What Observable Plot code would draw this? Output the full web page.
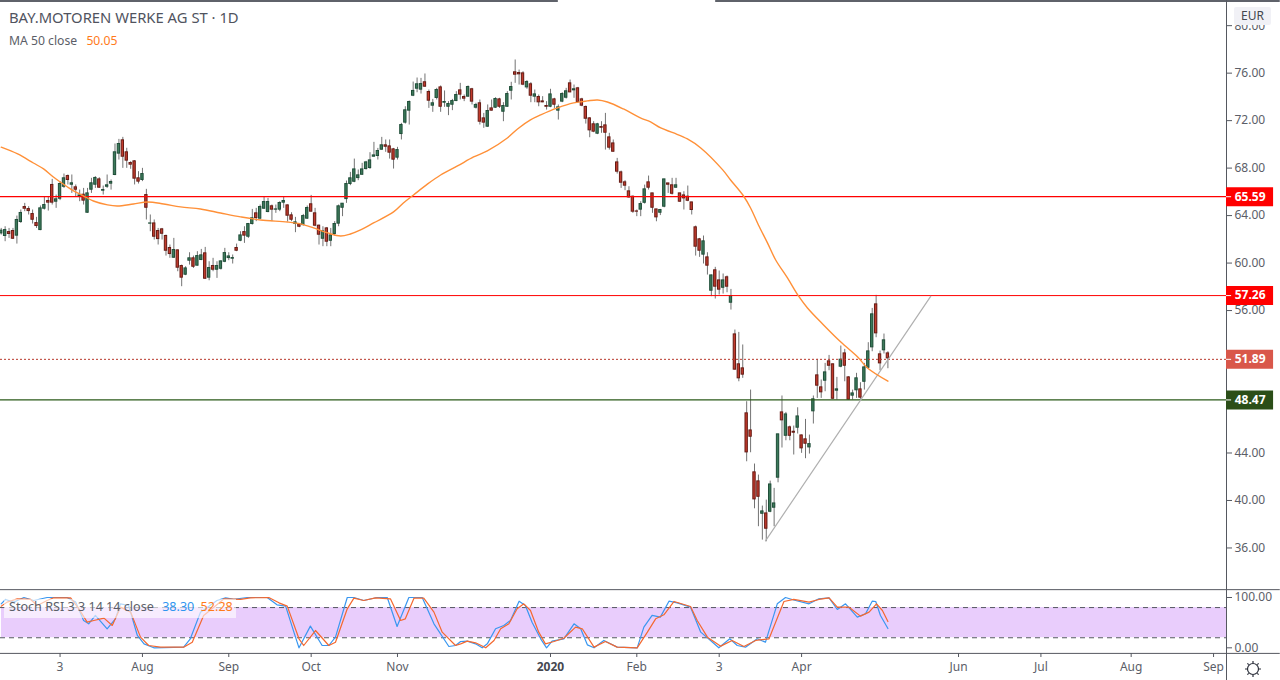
<!DOCTYPE html>
<html><head><meta charset="utf-8">
<script src="https://cdn.jsdelivr.net/npm/d3@7"></script>
<script src="https://cdn.jsdelivr.net/npm/@observablehq/plot@0.6"></script>
<style>
html,body{margin:0;padding:0;background:#fff}
#wrap{position:relative;width:1280px;height:680px;overflow:hidden;font-family:"Noto Sans",sans-serif;color:#50535e}
#wrap svg{display:block;overflow:visible;background:transparent}
.ov{position:absolute;white-space:pre}
</style></head><body><div id="wrap"></div>
<script>
const opens=[62.50,62.28,62.61,62.70,62.31,63.46,64.72,64.55,64.13,63.37,
62.78,64.58,65.23,66.58,65.17,65.42,66.43,67.33,66.60,66.38,
65.65,65.76,64.24,66.18,66.60,67.05,66.10,66.43,66.69,67.42,
69.22,70.34,69.33,68.43,68.57,67.14,67.00,65.73,63.32,63.34,
62.70,62.84,62.28,61.27,60.45,61.07,59.75,59.02,60.20,60.40,
59.78,60.26,60.82,58.77,59.75,59.44,59.52,60.11,60.42,60.37,
61.27,61.88,62.61,62.22,63.29,64.19,63.74,64.58,64.30,64.78,
64.50,64.50,65.09,64.86,64.02,63.29,63.26,63.20,63.74,64.95,
64.19,63.15,62.05,62.92,61.88,62.45,63.32,64.66,65.39,66.66,
66.85,67.16,67.44,67.92,68.01,68.96,69.02,69.55,69.92,69.83,
69.58,68.88,70.87,71.83,72.84,74.10,74.69,74.61,75.23,74.41,
73.26,73.91,74.80,73.51,73.17,73.34,73.65,74.55,73.99,74.02,
74.64,73.09,73.46,72.19,71.49,73.03,73.09,73.79,72.75,73.17,
74.52,76.07,76.01,75.98,74.80,75.06,74.02,73.99,73.62,73.23,
73.17,73.79,72.84,73.60,73.93,75.14,74.55,74.72,73.79,73.15,
72.19,71.69,70.90,71.46,71.60,70.59,70.08,68.48,67.64,66.80,
66.04,65.59,64.35,64.50,65.08,66.80,65.87,64.52,64.24,64.75,
66.71,66.55,66.35,65.87,65.70,65.59,65.11,63.01,62.00,60.71,
60.48,57.67,59.39,58.54,57.92,58.80,56.66,53.99,51.47,51.13,
47.34,45.90,42.37,41.61,38.88,38.91,39.05,39.39,41.92,47.42,
45.45,46.16,45.79,46.13,45.48,45.15,44.47,47.51,50.54,49.53,
50.09,51.72,51.47,49.25,51.27,52.39,50.37,48.83,49.28,49.36,
50.00,51.18,52.90,56.52,52.31,52.65,52.39];
const highs=[62.92,63.06,62.92,62.92,63.96,64.47,65.03,64.75,64.47,63.85,
64.81,65.59,65.59,67.05,65.73,66.86,67.50,67.42,67.42,66.58,
66.15,66.29,66.29,67.14,67.28,67.19,66.49,67.42,67.00,70.03,
70.42,70.59,69.67,68.54,68.63,67.70,67.98,66.21,64.05,63.63,
62.92,62.92,62.36,61.52,62.08,61.10,59.83,59.69,60.87,60.59,
60.96,61.15,61.32,60.11,60.40,60.11,60.20,61.24,60.87,60.68,
61.60,62.64,63.06,63.34,64.52,64.61,64.89,65.59,65.45,64.89,
64.89,65.17,65.59,64.89,64.24,63.85,63.34,64.10,64.81,65.70,
64.61,63.20,63.06,63.00,62.92,63.49,64.89,65.00,66.91,67.64,
68.76,67.84,68.40,68.57,69.30,70.17,69.66,70.59,70.37,70.37,
69.66,69.75,71.77,73.17,73.65,75.25,75.59,75.56,75.93,74.58,
73.79,74.72,74.92,74.50,73.60,73.79,74.44,75.14,74.16,74.92,
74.72,73.46,73.74,72.61,73.32,73.74,73.93,73.88,73.51,74.44,
75.23,77.11,76.26,76.12,75.37,75.20,74.58,74.16,74.02,73.60,
74.64,73.88,73.32,74.35,74.72,75.42,75.00,74.80,73.88,73.23,
72.25,71.91,71.77,71.91,72.61,70.93,70.37,68.82,67.75,66.94,
66.43,65.65,64.47,65.17,66.57,67.33,65.87,64.52,64.52,67.05,
66.71,67.14,67.14,65.87,66.01,66.49,65.11,63.12,62.08,62.28,
60.87,58.99,59.64,59.33,59.08,58.91,57.78,54.36,54.16,53.10,
48.32,49.30,43.07,42.14,39.53,40.03,41.63,41.02,45.57,48.80,
47.42,46.27,46.27,47.81,45.51,46.83,45.51,48.80,51.89,50.15,
51.55,52.22,51.49,50.37,53.01,52.73,50.43,49.30,50.71,49.92,
51.55,53.29,56.18,57.28,52.59,54.02,52.53];
const lows=[62.36,61.80,62.08,62.00,61.60,63.34,64.33,64.05,63.29,62.92,
62.73,64.47,64.38,64.89,64.61,65.26,66.29,66.58,65.87,65.59,
65.17,64.89,64.19,65.87,66.29,66.29,65.73,66.29,66.15,67.36,
68.68,67.98,67.98,67.90,66.58,66.66,66.86,63.63,62.64,61.94,
61.52,61.94,60.59,60.40,60.40,59.27,58.01,58.94,59.83,59.55,
59.75,60.20,58.63,58.51,59.27,58.71,59.41,60.03,60.20,59.92,
60.96,61.80,61.66,62.08,63.20,63.49,63.68,64.52,64.24,63.49,
64.19,64.33,64.61,63.46,63.49,62.56,62.98,63.12,63.68,64.30,
63.06,61.52,61.38,61.38,61.38,62.28,63.06,63.91,65.03,66.52,
66.77,66.94,67.39,67.84,67.89,68.96,68.68,69.52,69.33,68.76,
67.92,68.68,70.37,71.71,71.63,74.02,74.35,74.24,74.80,73.03,
72.70,73.74,72.70,73.12,72.42,72.84,73.60,73.74,73.60,73.96,
73.32,72.98,71.63,71.35,71.43,72.81,73.03,73.03,71.91,73.12,
73.74,75.14,75.00,74.94,74.64,73.51,73.51,73.17,73.51,72.89,
73.09,73.03,72.05,73.51,73.82,74.35,73.88,73.46,73.17,71.71,
70.56,70.98,70.82,70.93,69.52,69.52,69.35,67.50,66.29,66.10,
65.45,64.19,63.91,63.91,64.97,66.15,64.19,63.48,64.00,64.66,
65.87,65.73,66.29,65.11,64.47,65.17,64.05,60.59,60.48,59.92,
58.99,57.17,56.97,57.31,57.39,57.50,56.04,50.99,50.00,50.29,
43.26,44.02,39.30,37.79,36.66,36.52,38.97,37.79,41.49,44.42,
45.03,45.03,43.83,45.60,43.97,43.52,43.91,46.44,48.60,48.60,
49.16,50.93,48.52,48.46,51.18,50.00,48.46,48.46,48.60,48.52,
49.30,51.10,52.53,53.71,50.93,52.34,51.10];
const closes=[62.73,62.78,62.45,62.05,63.63,64.22,64.58,64.38,63.65,63.12,
64.61,64.89,65.09,65.09,65.37,66.66,67.14,67.00,66.72,66.18,
65.70,65.26,65.87,66.72,67.17,66.35,66.15,66.55,66.83,69.33,
70.03,68.96,68.63,68.29,67.11,66.86,67.50,64.66,63.34,62.22,
62.02,62.47,61.04,60.76,61.10,59.61,58.77,59.55,60.40,59.69,
60.59,60.65,58.68,59.58,59.44,59.75,60.14,60.84,60.56,60.42,
61.04,62.33,62.31,63.29,63.77,63.79,64.72,65.14,65.14,64.50,
64.52,65.06,65.23,63.99,63.65,63.43,63.06,63.96,64.64,64.33,
63.15,62.39,62.67,61.80,62.33,63.29,64.78,65.00,66.66,67.14,
67.89,67.39,67.89,68.48,68.65,69.07,69.44,69.92,69.80,69.30,
68.71,69.52,71.63,72.87,73.57,74.50,75.06,75.08,74.86,73.68,
73.46,74.58,73.17,73.57,73.40,73.65,74.16,74.19,73.85,74.83,
73.60,73.32,71.91,71.83,72.81,72.84,73.82,73.17,73.23,74.24,
74.83,75.87,75.90,75.03,75.25,74.10,74.21,73.54,73.54,73.17,
74.21,73.34,73.12,74.24,74.47,74.38,74.64,73.57,73.26,72.16,
71.18,71.07,71.69,71.40,70.98,69.72,69.38,67.70,66.77,66.52,
65.53,64.33,64.33,64.97,66.21,66.35,64.66,63.85,64.47,67.05,
66.60,65.84,66.55,65.17,65.45,65.25,64.47,61.38,61.04,61.83,
59.78,58.96,58.01,57.76,58.54,58.01,57.22,51.02,50.29,50.60,
44.05,45.37,40.09,40.31,39.08,37.62,41.35,39.75,45.57,46.75,
47.25,45.45,45.71,47.08,44.39,44.78,44.75,48.52,49.67,49.11,
50.79,51.35,48.57,49.36,51.86,51.35,48.49,49.02,50.29,48.66,
51.21,52.56,55.68,54.08,51.55,53.49,51.97];

const maIndex=[0,4.2,8.2,10.8,13.3,16.9,18.9,21,23.5,27.1,29.6,33.7,37.3,41.4,45.7,50.8,55.9,61,66.1,73,76.3,79.6,83.2,86.5,89,91.6,94.9,100,102.5,105.1,108.7,112,116.3,120.4,123.9,129,131.6,134.9,137.5,141.8,145.9,149.4,152,154.5,158.6,162.9,165.5,168.1,171.4,174.9,178.3,183.9,185.9,189.2,191,193,195.3,197.4,200.4,203.2,205.5,209.6,214,218.3,220.8,226];
const maValue=[69.76,69.19,68.43,67.93,67.25,66.41,65.99,65.65,65.23,64.90,64.81,64.98,65.15,64.98,64.73,64.56,64.22,63.89,63.63,63.46,63.30,62.96,62.54,62.28,62.45,62.79,63.38,64.31,65.06,65.74,66.67,67.42,68.18,68.94,69.45,70.54,71.30,72.06,72.48,73.07,73.49,73.66,73.74,73.57,72.98,72.23,71.89,71.38,70.96,70.46,69.70,67.85,67.00,65.65,64.64,63.21,61.70,60.26,58.75,57.23,56.22,54.79,53.35,52.09,51.16,50.05];

const kIndex=[0,1.1,3.2,5.8,8.3,11.7,16.8,19,21,22.3,24,27,29.1,30.4,32.5,34.7,36.4,38.9,46.5,48.2,50.8,55,57.2,59.3,62.7,67.8,70.3,72.5,74.6,75.9,78.8,81.8,83.5,85.2,88.2,89.9,92.4,95.8,98.4,100.9,103.9,107.3,110.3,114.1,115.8,117.1,118.8,120.9,122.6,123.9,126,128.1,129.8,132,133.6,135.3,137.5,139,140.4,143.4,146,147.7,149.4,151.1,153.6,157,162.1,163.8,165.9,168,170.2,172.3,175.7,178.3,180.8,182.9,185.7,187.6,189.7,192.7,194.8,197.8,199.9,202,205.9,208.4,211,213.1,215.2,218.2,220.3,222,222.9,224.1,226];
const kValue=[87.4,96.1,90.8,100,94.1,100,100,90.8,54.3,47.7,64.3,37.8,57.6,87.4,84.1,24.5,7.9,0,1.3,17.9,70.9,94.1,99.4,96.1,100,100,85.5,82.8,31.1,0,43.1,4.6,4.6,21.2,100,100,94.1,100,100,42.4,100,100,47.7,2.6,4.6,12.6,13.2,7.9,0,7.9,37.8,44.4,54.3,92.7,84.1,51,17.9,0,13.2,17.9,47.7,37.8,5.9,0,14.6,1.3,0,41.1,64.3,61,92.7,89.4,80.8,31.1,14.6,0,17.9,4.6,1.3,17.9,11.2,87.4,100,95,87.4,97.4,99.4,76.2,87.4,61,67.6,92.7,92.1,64.3,38.30];
const dIndex=[0,1.5,4.1,7.5,9.2,11.7,13.4,17.7,19.8,21.9,23.6,26.2,28.3,30.4,33,35.5,37.6,40.6,46.5,48.7,51.6,54.2,56.8,61,63.5,68.2,70.8,72.9,75.9,77.1,80.1,83.5,85.2,88.2,89.9,92.4,95.4,99.2,101.8,103,105.2,107.7,110.3,112.4,115.8,117.1,118.8,120.9,123.5,125.6,127.3,129.4,131.5,133.2,134.9,137,138.7,140.9,143.4,146.4,148.1,151.1,154,157,162.1,164.7,166.8,168.9,171.5,175.7,177.4,180,183.4,186.3,189.3,192.3,195.7,199.5,202,205.9,208.4,211,213.1,216.1,219,221.2,223.1,224.6,226];
const dValue=[82.8,90.8,97.4,96.1,84.1,94.1,99.4,99.4,77.5,51,54.3,59,44.4,80.8,70.9,21.2,4.6,1.3,1.3,11.2,64.3,80.8,97.4,96.1,99.4,100,89.4,82.8,17.9,4.6,34.4,4.6,11.2,77.5,98.7,94.1,99.4,97.4,54.3,57.6,98.7,98.7,70.9,31.1,4.6,7.9,13.2,9.9,0,14.6,37.8,47.7,77.5,87.4,74.2,31.1,7.9,12.6,19,41.1,37.8,1.3,12.6,1.3,0,31.1,57.6,65.6,92.1,82.1,54.3,21.2,3.3,14.6,2.6,14.6,17.9,92.1,96.1,90.8,96.1,99.4,80.8,80.8,63,70.9,87.4,74.2,52.28];

const trendIndex=[194.8,236.9];
const trendValue=[36.6,57.2];
const priceTicks=[80,76,72,68,64,60,56,44,40,36];
const stochTicks=[100,0];
const monthIndex=[15,36,58,79,101,162,183,204,244,265,288,309];
const monthLabels=["3","Aug","Sep","Oct","Nov","Feb","3","Apr","Jun","Jul","Aug","Sep"];
const yearIndex=[140];
const yearLabels=["2020"];
const levels=[
  {price:65.59,color:"#ff0000",width:1.2,dash:null},
  {price:57.26,color:"#ff0000",width:1,dash:null},
  {price:51.89,color:"#b8382c",width:1,dash:"2,2"},
  {price:48.47,color:"#2b5a18",width:1.2,dash:null}
];
const tagColors=["#ff0000","#ff0000","#d9574a","#2b4e18"];

const xDomain=[-0.18,312.3], xEnd=326, tagEnd=324.3, tagStart=312.3, tagText=314.4;
const axisColor="#555860", textColor="#5b5e68";
const candles=opens.map((o,i)=>({i,o,h:highs[i],l:lows[i],c:closes[i]}));
const up=candles.filter(d=>d.c>=d.o), down=candles.filter(d=>d.c<d.o);
const ma=maIndex.map((x,i)=>({x,y:maValue[i]}));
const kLine=kIndex.map((x,i)=>({x,y:kValue[i]}));
const dLine=dIndex.map((x,i)=>({x,y:dValue[i]}));
const trend=trendIndex.map((x,i)=>({x,y:trendValue[i]}));
const F='"Noto Sans",sans-serif';
const body=(data,fill,stroke)=>Plot.rect(data,{x1:d=>d.i-.3,x2:d=>d.i+.3,y1:"o",y2:"c",fill,stroke,strokeWidth:1});

const main=Plot.plot({
  width:1280,height:589,marginTop:0,marginBottom:0,marginLeft:0,marginRight:54,
  style:{fontFamily:F,fontSize:"12px",background:"transparent"},
  x:{domain:xDomain,range:[0,1226],axis:null},
  y:{domain:[32.50,82.12],axis:null},
  marks:[
    Plot.ruleY([82.08],{x1:xDomain[0],x2:142,stroke:"#2a2e39",strokeWidth:1.5}),
    Plot.ruleY([82.08],{x1:182.1,x2:xEnd,stroke:"#2a2e39",strokeWidth:1.5}),
    Plot.ruleX(candles,{x:"i",y1:"l",y2:"h",stroke:"#737373",strokeWidth:1}),
    body(up,"#3c7a5a","#1f4d38"),
    body(down,"#c23a2c","#651b14"),
    ...levels.map(l=>Plot.ruleY([l.price],{x1:xDomain[0],x2:tagStart,stroke:l.color,strokeWidth:l.width,strokeDasharray:l.dash})),
    Plot.line(trend,{x:"x",y:"y",stroke:"#b0b0b0",strokeWidth:1.2}),
    Plot.line(ma,{x:"x",y:"y",stroke:"#ff9038",strokeWidth:1.4,curve:"catmull-rom"}),
    Plot.ruleX([tagStart],{stroke:axisColor,strokeWidth:1}),
    Plot.axisY(priceTicks,{anchor:"right",tickSize:5,tickPadding:3,tickFormat:d=>d.toFixed(2),stroke:axisColor,color:textColor,fontSize:12,label:null}),
    ...levels.map((l,i)=>Plot.ruleY([l.price],{x1:tagStart,x2:tagEnd,stroke:tagColors[i],strokeWidth:19})),
    ...levels.map(l=>Plot.ruleY([l.price],{x1:tagStart,x2:tagStart+1.3,stroke:"#fff",strokeWidth:1})),
    ...levels.map(l=>Plot.text([l.price],{x:tagText,y:d=>d,text:d=>d.toFixed(2),fill:"#fff",fontWeight:"bold",fontSize:12,textAnchor:"start"}))
  ]
});

const stoch=Plot.plot({
  width:1280,height:91,marginTop:0,marginBottom:27,marginLeft:0,marginRight:54,
  style:{fontFamily:F,fontSize:"12px",background:"transparent"},
  x:{domain:xDomain,range:[0,1226],axis:null},
  y:{domain:[-11.3,115.9],axis:null},
  marks:[
    Plot.rect([0],{x1:xDomain[0]+.25,x2:tagStart,y1:20,y2:80,fill:"#e9cdfc"}),
    Plot.ruleY([80,20],{x1:xDomain[0],x2:tagStart,stroke:"#555860",strokeWidth:1,strokeDasharray:"5,4"}),
    Plot.line(kLine,{x:"x",y:"y",stroke:"#3a97f0",strokeWidth:1.2}),
    Plot.line(dLine,{x:"x",y:"y",stroke:"#f4682f",strokeWidth:1.2}),
    Plot.ruleY([115.6,-11.1],{x1:xDomain[0],x2:xEnd,stroke:axisColor,strokeWidth:1}),
    Plot.ruleX([tagStart],{y1:115.9,y2:-70,stroke:axisColor,strokeWidth:1}),
    Plot.axisY(stochTicks,{anchor:"right",tickSize:5,tickPadding:3,tickFormat:d=>d.toFixed(2),stroke:axisColor,color:textColor,fontSize:12,label:null}),
    Plot.axisX(monthIndex,{anchor:"bottom",tickSize:4,tickPadding:5,tickFormat:d=>monthLabels[monthIndex.indexOf(d)],stroke:axisColor,color:textColor,fontSize:12,label:null}),
    Plot.axisX(yearIndex,{anchor:"bottom",tickSize:4,tickPadding:5,tickFormat:d=>yearLabels[yearIndex.indexOf(d)],stroke:axisColor,color:"#44474f",fontWeight:"bold",fontSize:12,label:null})
  ]
});

const wrap=document.getElementById("wrap");
wrap.append(main,stoch);
const add=(html,css)=>{const e=document.createElement("div");e.className="ov";e.style.cssText=css;e.innerHTML=html;wrap.append(e);};
add('BAY.MOTOREN WERKE AG ST · 1D','left:9px;top:8px;font-size:14.8px;line-height:18px;color:#50535e;');
add('MA 50 close <span style="color:#ff7a1a;margin-left:6px">50.05</span>','left:9px;top:33px;font-size:12.2px;line-height:16px;color:#5b5e68;');
add('Stoch RSI 3 3 14 14 close <span style="color:#2f95f0;margin-left:5px">38.30</span> <span style="color:#ff7a1a;margin-left:3px">52.28</span>','left:4px;top:599px;height:19px;width:227px;padding-left:5px;font-size:12.6px;line-height:15px;color:#5b5e68;background:rgba(255,255,255,.62);');
add('EUR','left:1234px;top:7px;width:37px;height:18px;line-height:18px;text-align:center;font-size:12px;color:#44474f;background:#f1f1f6;border-radius:2px;');
add('<svg width="18" height="18" viewBox="-9 -9 18 18" style="display:block"><circle r="5.5" fill="none" stroke="#2a2e39" stroke-width="1.2"/><path d="M0-8V-6M0 8V6M-8 0H-6M8 0H6M-5.6-5.6L-4.3-4.3M5.6 5.6L4.3 4.3M-5.6 5.6L-4.3 4.3M5.6-5.6L4.3-4.3" stroke="#2a2e39" stroke-width="1.2"/></svg>','left:1244px;top:660px;');
</script></body></html>
